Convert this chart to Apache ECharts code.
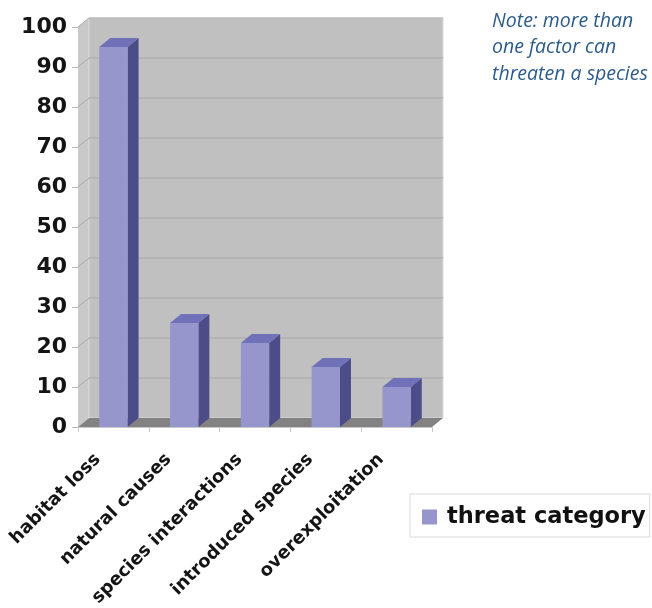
<!DOCTYPE html>
<html>
<head>
<meta charset="utf-8">
<script src="https://cdn.jsdelivr.net/npm/echarts@6/dist/echarts.min.js"></script>
<style>
html,body{margin:0;padding:0;background:#fff;}
#chart{width:652px;height:608px;}
</style>
</head>
<body>
<div id="chart"></div>
<script>
const categories = ['habitat loss', 'natural causes', 'species interactions', 'introduced species', 'overexploitation'];
const threatValues = [95, 26, 21, 15, 10];
const gridValues = [10, 20, 30, 40, 50, 60, 70, 80, 90, 100];
const seriesName = 'threat category';
const noteText = 'Note: more than\none factor can\nthreaten a species';

const DX = 11, DY = -9;

const chart = echarts.init(document.getElementById('chart'));

function renderWall(params, api) {
  const cs = params.coordSys;
  const x0 = cs.x, x1 = cs.x + cs.width;
  const y0 = api.coord([0, 0])[1];
  const yT = api.coord([0, 100])[1];
  const children = [];
  children.push({type: 'polygon', shape: {points: [[x0, yT], [x0 + DX, yT + DY], [x0 + DX, y0 + DY], [x0, y0]]},
    style: {fill: '#c9c9c9', stroke: null}});
  children.push({type: 'rect', shape: {x: x0 + DX, y: yT + DY, width: x1 - x0, height: y0 - yT}, style: {fill: '#c0c0c0', stroke: '#dcdcdc', lineWidth: 1}});
  gridValues.forEach(v => {
    const y = api.coord([0, v])[1];
    children.push({type: 'polyline', shape: {points: [[x0, y], [x0 + DX, y + DY], [x1 + DX, y + DY]]},
      style: {stroke: '#a9a9a9', lineWidth: 1, fill: null}});
  });
  children.push({type: 'polygon', shape: {points: [[x0, y0], [x1, y0], [x1 + DX, y0 + DY], [x0 + DX, y0 + DY]]},
    style: {fill: '#828282', stroke: null}});
  return {type: 'group', children: children};
}

function renderBar(params, api) {
  const idx = api.value(0), v = api.value(1);
  const top = api.coord([idx, v]);
  const base = api.coord([idx, 0]);
  const bw = api.size([1, 0])[0] * 0.4;
  const l = top[0] - bw / 2, r = top[0] + bw / 2;
  return {type: 'group', children: [
    {type: 'polygon', shape: {points: [[r, top[1]], [r + DX, top[1] + DY], [r + DX, base[1] + DY], [r, base[1]]]}, style: {fill: '#4c4c89'}},
    {type: 'polygon', shape: {points: [[l, top[1]], [r, top[1]], [r + DX, top[1] + DY], [l + DX, top[1] + DY]]}, style: {fill: '#7171b9'}},
    {type: 'rect', shape: {x: l, y: top[1], width: bw, height: base[1] - top[1]}, style: {fill: '#9696cc'}}
  ]};
}

chart.setOption({
  animation: false,
  title: {
    text: noteText, left: 487, top: 3,
    textStyle: {fontFamily: 'Open Sans', fontStyle: 'italic', fontWeight: 'normal', fontSize: 19.5, lineHeight: 26.5, color: '#2d5c8b'}
  },
  legend: {
    data: [seriesName], left: 410, top: 494, orient: 'horizontal',
    icon: 'rect', itemWidth: 15, itemHeight: 15,
    backgroundColor: '#fff', borderColor: '#d9d9d9', borderWidth: 1,
    padding: [10, 4, 7, 12],
    textStyle: {fontFamily: 'DejaVu Sans', fontWeight: 'bold', fontSize: 22.5, color: '#111', lineHeight: 26, padding: [0, 0, 0, 5]}
  },
  grid: {left: 78, top: 27, width: 354, bottom: 181, outerBoundsMode: 'none', containLabel: false},
  xAxis: {
    type: 'category', data: categories, boundaryGap: true,
    axisLine: {lineStyle: {color: '#c8c8c8'}},
    axisTick: {show: true, length: 5, lineStyle: {color: '#c8c8c8'}},
    axisLabel: {rotate: 45, interval: 0, margin: 14, padding: [0, 22, 0, 0], fontFamily: 'DejaVu Sans', fontWeight: 'bold', fontSize: 18, color: '#151515'}
  },
  yAxis: {
    type: 'value', min: 0, max: 100, interval: 10,
    axisLine: {show: true, lineStyle: {color: '#cfcfcf'}},
    axisTick: {show: true, length: 6, lineStyle: {color: '#b8b8b8'}},
    splitLine: {show: false},
    axisLabel: {margin: 11, fontFamily: 'DejaVu Sans', fontWeight: 'bold', fontSize: 22, color: '#151515'}
  },
  series: [
    {type: 'custom', name: 'wall', data: [[0, 0]], renderItem: renderWall, silent: true, z: 1},
    {type: 'custom', name: seriesName, data: categories.map((c, i) => [i, threatValues[i]]), renderItem: renderBar, itemStyle: {color: '#9696cc'}, z: 2}
  ]
});
</script>
</body>
</html>
